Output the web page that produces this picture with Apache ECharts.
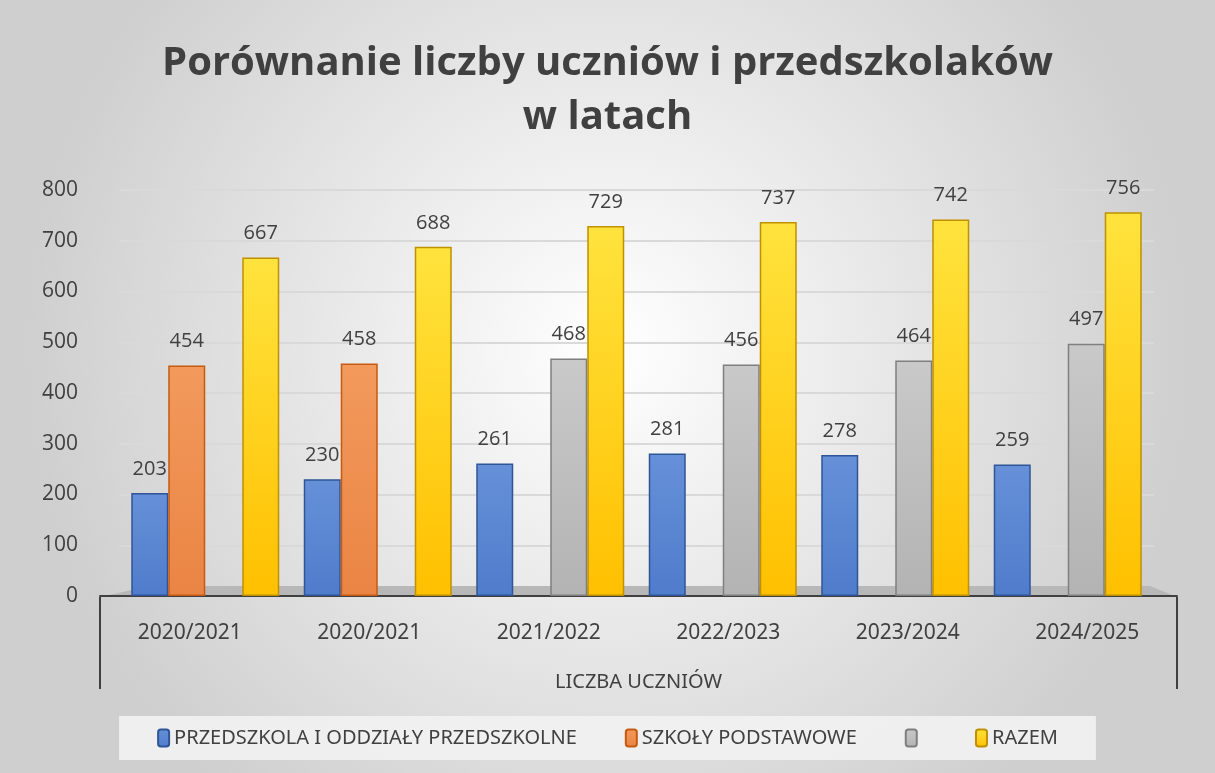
<!DOCTYPE html>
<html>
<head>
<meta charset="utf-8">
<script src="https://cdn.jsdelivr.net/npm/echarts@6/dist/echarts.min.js"></script>
<style>
	html, body { margin: 0; padding: 0; }
	#chart { width: 1215px; height: 773px; }
</style>
</head>
<body>
<div id="chart"></div>
<script>
// lata szkolne
var years = ['2020/2021', '2020/2021', '2021/2022', '2022/2023', '2023/2024', '2024/2025'];
var przedszkola = [203, 230, 261, 281, 278, 259];
var szkoly = [454, 458, null, null, null, null];
var szare = [null, null, 468, 456, 464, 497];
var razem = [667, 688, 729, 737, 742, 756];
var yTicks = [0, 100, 200, 300, 400, 500, 600, 700, 800];

var chart = echarts.init(document.getElementById('chart'));

function grad(top, bottom) {
	return new echarts.graphic.LinearGradient(0, 0, 0, 1, [
		{offset: 0, color: top},
		{offset: 1, color: bottom}
	]);
}

var labelStyle = {
	show: true,
	position: 'top',
	distance: 14,
	color: '#404040',
	fontSize: 20,
	fontFamily: 'Open Sans'
};

function serie(name, data, fill, border) {
	return {
		name: name,
		type: 'bar',
		xAxisIndex: 0,
		yAxisIndex: 0,
		data: data,
		barWidth: 37,
		barGap: '0%',
		itemStyle: {
			color: fill,
			borderColor: border,
			borderWidth: 1.5
		},
		label: labelStyle
	};
}

chart.setOption({
	backgroundColor: new echarts.graphic.RadialGradient(0.5, 0.45, 0.75, [
		{offset: 0, color: '#ffffff'},
		{offset: 1, color: '#cfcfcf'}
	]),
	title: {
		text: 'Porównanie liczby uczniów i przedszkolaków\nw latach',
		left: 'center',
		top: 32,
		textStyle: {
			fontFamily: 'Open Sans',
			fontWeight: 'bold',
			fontSize: 40,
			lineHeight: 54,
			color: '#404040'
		}
	},
	legend: {
		bottom: 13,
		left: 'center',
		itemWidth: 11,
		itemHeight: 17,
		itemGap: 48,
		padding: [12, 38, 12, 38],
		backgroundColor: 'rgba(242,242,242,0.9)',
		textStyle: {
			color: '#404040',
			fontSize: 20,
			fontFamily: 'Noto Sans'
		},
		data: ['PRZEDSZKOLA I ODDZIAŁY PRZEDSZKOLNE', 'SZKOŁY PODSTAWOWE', ' ', 'RAZEM']
	},
	grid: [
		{left: 119, right: 61, top: 190, bottom: 177},
		{left: 100, right: 38, top: 190, bottom: 177}
	],
	xAxis: [
		{
			type: 'category',
			gridIndex: 0,
			data: years,
			axisLine: {show: false},
			axisTick: {show: false},
			axisLabel: {show: false}
		},
		{
			type: 'category',
			gridIndex: 1,
			data: years,
			axisLine: {lineStyle: {color: '#404040', width: 2}},
			axisTick: {show: false},
			axisLabel: {
				margin: 27,
				color: '#404040',
				fontSize: 21,
				fontFamily: 'Noto Sans'
			},
			name: 'LICZBA UCZNIÓW',
			nameLocation: 'middle',
			nameGap: 76,
			nameTextStyle: {
				color: '#404040',
				fontSize: 20,
				fontFamily: 'Noto Sans'
			}
		}
	],
	yAxis: [
		{
			type: 'value',
			gridIndex: 0,
			min: yTicks[0],
			max: yTicks[yTicks.length - 1],
			interval: 100,
			axisLine: {show: false},
			axisTick: {show: false},
			axisLabel: {
				margin: 41,
				color: '#404040',
				fontSize: 21,
				fontFamily: 'Open Sans'
			},
			splitLine: {lineStyle: {color: '#d9d9d9', width: 2}}
		},
		{
			type: 'value',
			gridIndex: 1,
			min: 0,
			max: 800,
			show: false
		}
	],
	graphic: [
		{
			type: 'polygon',
			z: 0,
			shape: {points: [[100, 597], [150, 586], [1150, 586], [1177, 597]]},
			style: {fill: '#b8b8b8'}
		},
		{
			type: 'polyline',
			z: 1,
			shape: {points: [[100, 597], [100, 689]]},
			style: {stroke: '#404040', lineWidth: 2}
		},
		{
			type: 'polyline',
			z: 1,
			shape: {points: [[1177, 597], [1177, 689]]},
			style: {stroke: '#404040', lineWidth: 2}
		}
	],
	series: [
		serie('PRZEDSZKOLA I ODDZIAŁY PRZEDSZKOLNE', przedszkola, grad('#6690d8', '#4f7ccb'), '#2f5597'),
		serie('SZKOŁY PODSTAWOWE', szkoly, grad('#f29a5c', '#ea8444'), '#c55a11'),
		serie(' ', szare, grad('#c9c9c9', '#b3b3b3'), '#7f7f7f'),
		serie('RAZEM', razem, grad('#ffe33d', '#ffc000'), '#bf9000')
	]
});
</script>
</body>
</html>
